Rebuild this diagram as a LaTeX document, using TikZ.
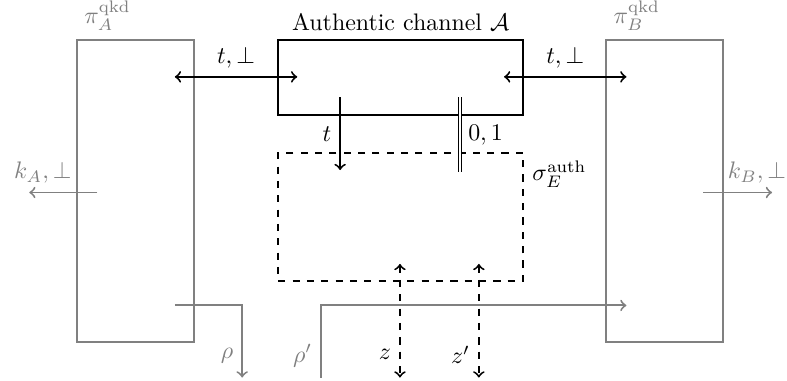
\documentclass[tikz,border=0pt]{standalone}
\usetikzlibrary{positioning,calc}
\begin{document}
\begin{tikzpicture}[
    qkd/.style={rectangle,thick,draw=gray,minimum width=1.72cm,minimum height=4.44cm},
    chan/.style={rectangle,thick,draw,minimum width=3.6cm,minimum height=1.1cm},
    glabel/.style={text=gray}]
  \useasboundingbox (0,0) rectangle (11.57,5.59);

  % boxes
  \node[qkd] (piA) at (1.99,2.78) {};
  \node[qkd] (piB) at (9.77,2.78) {};
  \node[chan] (auth) at (5.89,4.45) {};
  \node[chan,dashed,minimum height=1.88cm] (eve) at (5.89,2.40) {};

  \node[glabel,above right=0cm and 0cm of piA.north west] (piAlab) {$\pi_A^{\mathrm{qkd}}$};
  \node[glabel,above right=0cm and 0cm of piB.north west] (piBlab) {$\pi_B^{\mathrm{qkd}}$};
  \node[above=0cm of auth.north] (authlab) {Authentic channel $\mathcal{A}$};
  \node[below right=0cm and 0cm of eve.north east] (evelab) {$\sigma_E^{\mathrm{auth}}$};

  % free ends
  \coordinate (inA) at (2.57,4.46);
  \coordinate (inB) at (9.21,4.46);
  \coordinate (chA) at (4.37,4.46);
  \coordinate (chB) at (7.41,4.46);
  \coordinate (tS) at (5.0,4.16);
  \coordinate (tE) at (5.0,3.09);
  \coordinate (bS) at (6.76,4.16);
  \coordinate (bE) at (6.76,3.06);
  \coordinate (kAs) at (1.43,2.76);
  \coordinate (kAe) at (0.43,2.76);
  \coordinate (kBs) at (10.34,2.76);
  \coordinate (kBe) at (11.35,2.76);
  \coordinate (rhoS) at (2.57,1.10);
  \coordinate (rhoE) at (3.56,0.04);
  \coordinate (rhopS) at (4.72,0.04);
  \coordinate (rhopE) at (9.21,1.10);
  \coordinate (zT) at (5.88,1.71);
  \coordinate (zB) at (5.88,0.04);
  \coordinate (zpT) at (7.04,1.71);
  \coordinate (zpB) at (7.04,0.04);

  % channel
  \draw[<->,thick] (inA) -- node[above] {$t,\bot$} (chA);
  \draw[<->,thick] (chB) -- node[above] {$t,\bot$} (inB);
  \draw[->,thick] (tS) -- node[left] {$t$} (tE);
  \draw[double,double distance=1pt] (bS) -- node[right] {$0,1$} (bE);

  % keys and states
  \draw[->,thick,gray] (kAs) -- node[glabel,pos=0.8,above] {$k_A,\bot$} (kAe);
  \draw[->,thick,gray] (kBs) -- node[glabel,pos=0.78,above] {$k_B,\bot$} (kBe);
  \draw[->,thick,gray] (rhoS) -| node[glabel,pos=0.85,left] {$\rho$} (rhoE);
  \draw[->,thick,gray] (rhopS) |- node[glabel,pos=0.15,left] {$\rho'$} (rhopE);

  % eavesdropper
  \draw[<->,thick,dashed] (zT) -- node[pos=0.8,left] {$z$} (zB);
  \draw[<->,thick,dashed] (zpT) -- node[pos=0.8,left] {$z'$} (zpB);
\end{tikzpicture}
\end{document}
